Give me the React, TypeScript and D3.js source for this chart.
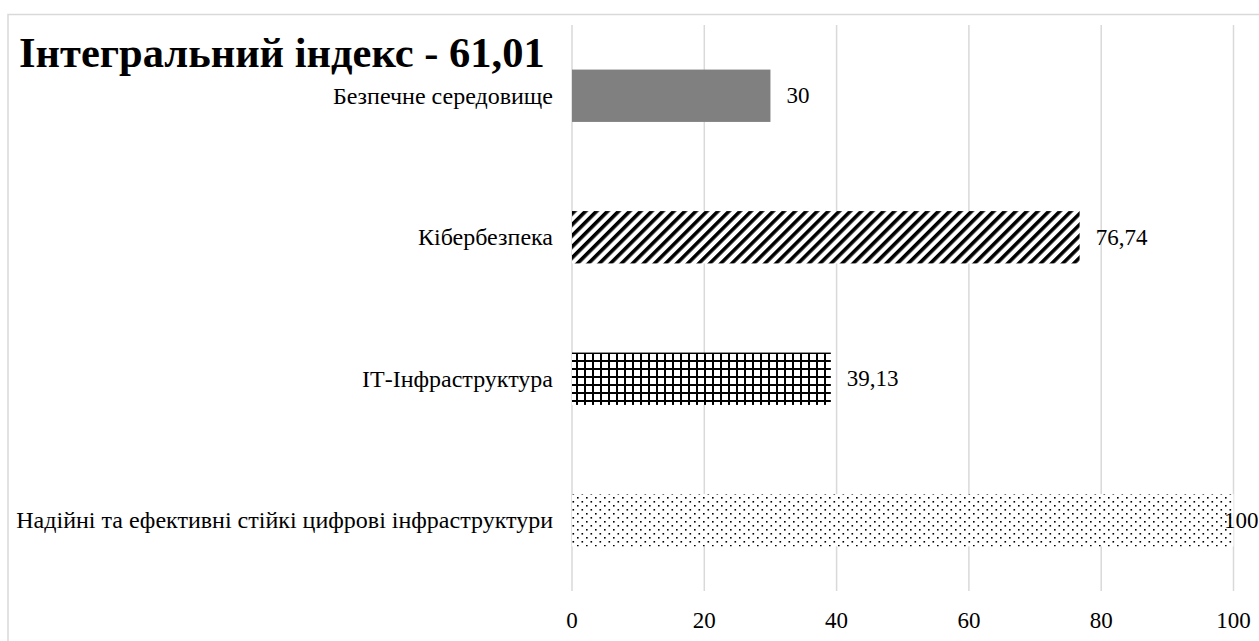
import React from "react";
import * as d3 from "d3";

const categories = [
  "Безпечне середовище",
  "Кібербезпека",
  "ІТ-Інфраструктура",
  "Надійні та ефективні стійкі цифрові інфраструктури",
];
const values = [30, 76.74, 39.13, 100];
const valueLabels = ["30", "76,74", "39,13", "100"];
const patterns = ["solid", "stripes", "grid", "dots"];
const ticks = [0, 20, 40, 60, 80, 100];
const title = "Інтегральний індекс - 61,01";

const W = 1259;
const H = 641;
const FONT = "'Liberation Serif', 'Times New Roman', serif";

export default function App() {
  const x = d3.scaleLinear().domain([0, 100]).range([572, 1233.5]);
  const y = d3.scaleBand().domain(categories).range([25, 591]).paddingInner(0.63).paddingOuter(0.315);
  const fillFor = (p: string) =>
    p === "solid" ? "#808080" : `url(#pat-${p})`;
  return (
    <svg
      width={W}
      height={H}
      style={{ position: "absolute", left: 0, top: 0, background: "#fff" }}
      fontFamily={FONT}
    >
      <defs>
        <pattern id="pat-stripes" width="7.8" height="7.8" patternUnits="userSpaceOnUse" patternTransform="rotate(45)">
          <rect width="7.8" height="7.8" fill="#fff" />
          <rect x="0" y="0" width="3.6" height="7.8" fill="#000" />
        </pattern>
        <pattern id="pat-grid" width="8" height="8" patternUnits="userSpaceOnUse">
          <rect width="8" height="8" fill="#fff" />
          <rect x="0" y="0" width="8" height="2" fill="#000" />
          <rect x="0" y="0" width="2" height="8" fill="#000" />
        </pattern>
        <pattern id="pat-dots" width="9" height="8" patternUnits="userSpaceOnUse">
          <rect width="9" height="8" fill="#fff" />
          <rect x="1" y="1" width="1.6" height="1.6" fill="#000" />
          <rect x="5.5" y="5" width="1.6" height="1.6" fill="#000" />
        </pattern>
      </defs>
      <rect x={0} y={0} width={W} height={H} fill="#fff" />
      <rect x={8} y={14.5} width={W + 10} height={H + 10} fill="none" stroke="#d9d9d9" strokeWidth={1.5} />
      {ticks.map((t) => (
        <line key={t} x1={x(t)} x2={x(t)} y1={25} y2={591} stroke="#d9d9d9" strokeWidth={1.5} />
      ))}
      {categories.map((c, i) => (
        <rect
          key={c}
          x={x(0)}
          y={y(c)}
          width={x(values[i]) - x(0)}
          height={y.bandwidth()}
          fill={fillFor(patterns[i])}
        />
      ))}
      {categories.map((c, i) => (
        <text
          key={"l" + c}
          x={553}
          y={(y(c) as number) + y.bandwidth() / 2}
          textAnchor="end"
          dominantBaseline="central"
          fontSize={24}
          fill="#000"
        >
          {c}
        </text>
      ))}
      {categories.map((c, i) => (
        <text
          key={"v" + c}
          x={Math.min(x(values[i]) + 16, W - 35)}
          y={(y(c) as number) + y.bandwidth() / 2}
          dominantBaseline="central"
          fontSize={23}
          fill="#000"
        >
          {valueLabels[i]}
        </text>
      ))}
      {ticks.map((t) => (
        <text key={"t" + t} x={x(t)} y={620} textAnchor="middle" dominantBaseline="central" fontSize={23} fill="#000">
          {t}
        </text>
      ))}
      <text x={19} y={66.7} fontSize={42.5} fontWeight="bold" fill="#000">
        {title}
      </text>
    </svg>
  );
}
